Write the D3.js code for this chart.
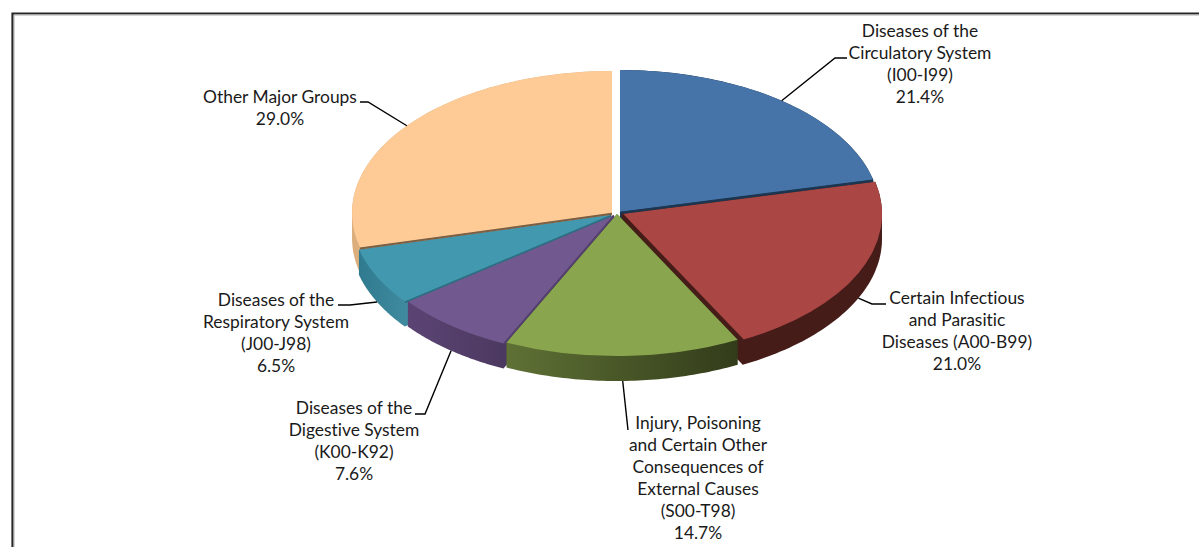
<!DOCTYPE html>
<html>
<head>
<meta charset="utf-8">
<script src="https://cdn.jsdelivr.net/npm/d3@7/dist/d3.min.js"></script>
<style>
html,body{margin:0;padding:0;background:#fff;overflow:hidden}
svg{display:block}
text{font-family:Lato,"Open Sans",sans-serif;font-size:17.4px;fill:#1a1a1a;text-anchor:middle;font-variant-ligatures:none}
</style>
</head>
<body>
<script>
// ---- data ----
const categories = [
  ["Diseases of the","Circulatory System","(I00-I99)"],
  ["Certain Infectious","and Parasitic","Diseases (A00-B99)"],
  ["Injury, Poisoning","and Certain Other","Consequences of","External Causes","(S00-T98)"],
  ["Diseases of the","Digestive System","(K00-K92)"],
  ["Diseases of the","Respiratory System","(J00-J98)"],
  ["Other Major Groups"]
];
const values = [21.4, 21.0, 14.7, 7.6, 6.5, 29.0];

// ---- styling / layout ----
const topColors  = ["#4673a8","#aa4644","#89a64e","#71588e","#4198af","#fecb96"];
const wallStops  = [["#1d3650","#1d3650"],["#451c18","#451c18"],["#5f7135","#323c1a"],
                    ["#5b4474","#4c3960"],["#2f7a8e","#3f8a9e"],["#dcae7d","#e0b281"]];
const rimColors  = ["#1d3650","#451c18",null,"#54406e","#2c6f82","#7a5f45"];
const rimEdge    = ["endAngle","endAngle",null,"startAngle","startAngle","startAngle"];
const rimWidth   = [2.2,3,0,1.8,1.6,2];
const centers    = [[620,212],[622,214],[617,214],[614,215],[611,215],[612,213]];
const drawOrder  = [5,0,4,1,3,2];
const labelBoxes = [[920,31],[957,298],[698,423],[354,408],[276,300],[280,97]];
const elbows     = [[[835,58],[847,58]],[[872,304],[886,304]],[[628,430]],
                    [[425,414],[415,414]],[[350,305],[338,305]],[[368,102],[360,102]]];
const leaderDepth = [0,25,25,25,25,0];
const W = 1199, H = 547, rx = 260, ry = 142, depth = 25, lineH = 22;

const svg = d3.select("body").append("svg").attr("width",W).attr("height",H);

// frame
svg.append("path").attr("d","M12.5,547V13.5H1199").attr("fill","none").attr("stroke","#262626").attr("stroke-width",2.2);
svg.append("path").attr("d","M14,547V15H1199").attr("fill","none").attr("stroke","#b0adb0").attr("stroke-width",1);

const slices = d3.pie().sort(null).value(d=>d)(values);
const arc = d3.arc().innerRadius(0).outerRadius(1);
const px = (i,a,dy=0)=>[centers[i][0]+rx*Math.sin(a), centers[i][1]-ry*Math.cos(a)+dy];

// wall gradients
const defs = svg.append("defs");
slices.forEach((s,i)=>{
  const a=px(i,s.startAngle), b=px(i,s.endAngle);
  const g=defs.append("linearGradient").attr("id","wall"+i).attr("gradientUnits","userSpaceOnUse")
    .attr("x1",Math.min(a[0],b[0])).attr("x2",Math.max(a[0],b[0])).attr("y1",0).attr("y2",0);
  g.append("stop").attr("offset",0).attr("stop-color",wallStops[i][0]);
  g.append("stop").attr("offset",1).attr("stop-color",wallStops[i][1]);
});

const hullLine = d3.line().curve(d3.curveLinearClosed);
drawOrder.forEach(i=>{
  const s = slices[i];
  // extruded body: hull of the sector and its copy lowered by the depth
  const angles = d3.range(0,61).map(k=>s.startAngle+(s.endAngle-s.startAngle)*k/60);
  const pts = [];
  [0,depth].forEach(dy=>{
    pts.push([centers[i][0],centers[i][1]+dy]);
    angles.forEach(a=>pts.push(px(i,a,dy)));
  });
  svg.append("path").attr("d",hullLine(d3.polygonHull(pts))).attr("fill",`url(#wall${i})`);
  // top face
  svg.append("path").attr("d",arc(s))
    .attr("transform",`translate(${centers[i][0]},${centers[i][1]}) scale(${rx},${ry})`)
    .attr("fill",topColors[i]);
});

// thin rims along the radial edges facing the viewer
slices.forEach((s,i)=>{
  if(!rimColors[i]) return;
  svg.append("path").attr("d",d3.line()([[centers[i][0],centers[i][1]+0.8],px(i,s[rimEdge[i]],0.8)]))
    .attr("fill","none").attr("stroke",rimColors[i]).attr("stroke-width",rimWidth[i]);
});

// leaders
const leader = d3.line();
slices.forEach((s,i)=>{
  const mid=(s.startAngle+s.endAngle)/2;
  svg.append("path").attr("d",leader([px(i,mid,leaderDepth[i]),...elbows[i]]))
    .attr("fill","none").attr("stroke","#000").attr("stroke-width",1.4);
});

// labels
categories.forEach((lines,i)=>{
  const [cx,cy]=labelBoxes[i];
  const t=svg.append("text").attr("x",cx).attr("y",cy+6);
  [...lines, d3.format(".1f")(values[i])+"%"].forEach((l,k)=>{
    t.append("tspan").attr("x",cx).attr("y",cy+6+k*lineH).text(l);
  });
});
</script>
</body>
</html>
